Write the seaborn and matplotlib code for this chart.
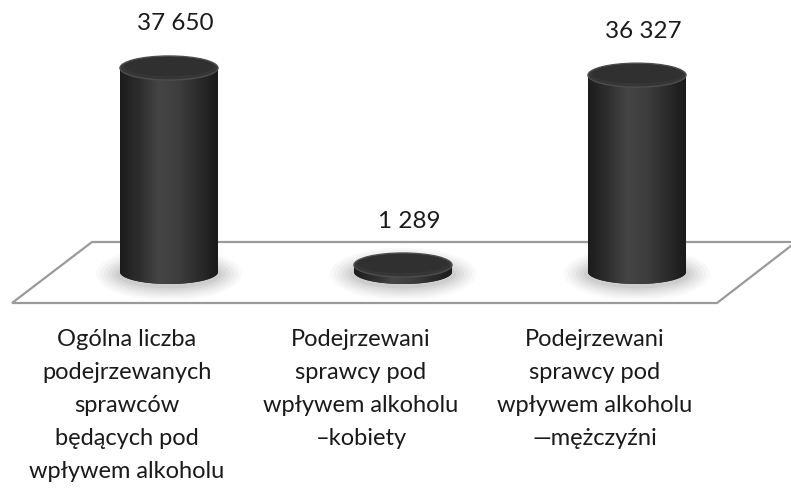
import numpy as np
import matplotlib
matplotlib.use("Agg")
import matplotlib.pyplot as plt
import seaborn as sns
import pandas as pd
from matplotlib.patches import Ellipse, Polygon
from matplotlib.colors import LinearSegmentedColormap

categories = [
    "Ogólna liczba\npodejrzewanych\nsprawców\nbędących pod\nwpływem alkoholu",
    "Podejrzewani\nsprawcy pod\nwpływem alkoholu\n\u2013kobiety",
    "Podejrzewani\nsprawcy pod\nwpływem alkoholu\n\u2014mężczyźni",
]
values = [37650, 1289, 36327]
value_labels = ["37 650", "1 289", "36 327"]

W, H = 791, 488
sns.set_theme(style="white")
plt.rcParams['font.family'] = ['Lato', 'DejaVu Sans']

fig = plt.figure(figsize=(W / 100, H / 100), dpi=100)
ax = fig.add_axes([0, 0, 1, 1])

df = pd.DataFrame({"pos": [0, 1, 2], "val": values})

# layout constants (pixels)
px_per_x = 234.0
x0_px = 169.0
base_px = 272.0            # baseline from top
units_per_px = 37650 / 204.0
bar_w = 98 / px_per_x
ell_h = 24 * units_per_px

xmin = -x0_px / px_per_x
xmax = xmin + W / px_per_x
ymin = -(H - base_px) * units_per_px
ymax = base_px * units_per_px

# floor parallelogram (axes fraction)
floor_px = [(12, 303), (717, 303), (796, 242), (92, 242)]
floor = Polygon([(x / W, 1 - y / H) for x, y in floor_px], closed=True,
                transform=ax.transAxes, facecolor="white", edgecolor="#9a9a9a",
                lw=1.6, zorder=0)
ax.add_patch(floor)

sns.barplot(data=df, x="pos", y="val", width=bar_w, color="#2f2f2f",
            saturation=1, ax=ax, zorder=3, edgecolor="none")

ax.set_xlim(xmin, xmax)
ax.set_ylim(ymin, ymax)
ax.axis("off")

cmap = LinearSegmentedColormap.from_list(
    "cyl", ["#1c1c1c", "#2e2e2e", "#454545", "#3e3e3e", "#2c2c2c", "#1a1a1a"])
grad = np.linspace(0, 1, 256).reshape(1, -1)

bars = [p for p in ax.patches if p is not floor]
for i, p in enumerate(bars):
    bx, by = p.get_x(), p.get_y()
    bw, bh = p.get_width(), p.get_height()
    cx = bx + bw / 2
    # soft shadow around the base
    for k, a in zip(range(6), [0.04, 0.05, 0.06, 0.07, 0.08, 0.1]):
        grow = (6 - k) * 4
        sh = Ellipse((cx, by - 2 * units_per_px),
                     bw + 2 * grow / px_per_x, ell_h + 1.2 * grow * units_per_px,
                     facecolor="#707070", edgecolor="none", alpha=a, zorder=1)
        ax.add_patch(sh)
    # body with rounded bottom
    t = np.linspace(np.pi, 2 * np.pi, 60)
    pts = [(cx + bw / 2 * np.cos(a), by + ell_h / 2 * np.sin(a)) for a in t]
    pts += [(bx + bw, by + bh), (bx, by + bh)]
    clip = Polygon(pts, closed=True, transform=ax.transData, facecolor="#2f2f2f",
                   edgecolor="none", zorder=2)
    ax.add_patch(clip)
    im = ax.imshow(grad, extent=[bx, bx + bw, by - ell_h / 2, by + bh],
                   aspect="auto", cmap=cmap, zorder=4, interpolation="bilinear")
    im.set_clip_path(clip)
    # top cap
    top = Ellipse((cx, by + bh), bw, ell_h, facecolor="#363636",
                  edgecolor="#4d4d4d", lw=1.0, zorder=5)
    ax.add_patch(top)
    inner = Ellipse((cx, by + bh + 1.5 * units_per_px), bw * 0.92, ell_h * 0.8,
                    facecolor="#303030", edgecolor="none", zorder=6)
    ax.add_patch(inner)
    # value label
    ax.annotate(value_labels[i], (cx, by + bh), xytext=(6 * 0.72, 44 * 0.72),
                textcoords="offset points", ha="center", va="center",
                fontsize=17.5, color="#1a1a1a", zorder=7)
    # category label
    ax.text(cx - 42 / px_per_x, 1 - 329 / H, categories[i],
            transform=ax.get_xaxis_transform(), ha="center", va="top",
            fontsize=17, color="#1a1a1a", linespacing=1.70)

ax.set_xlim(xmin, xmax)
ax.set_ylim(ymin, ymax)
fig.savefig("out.png", dpi=100, facecolor="white")
